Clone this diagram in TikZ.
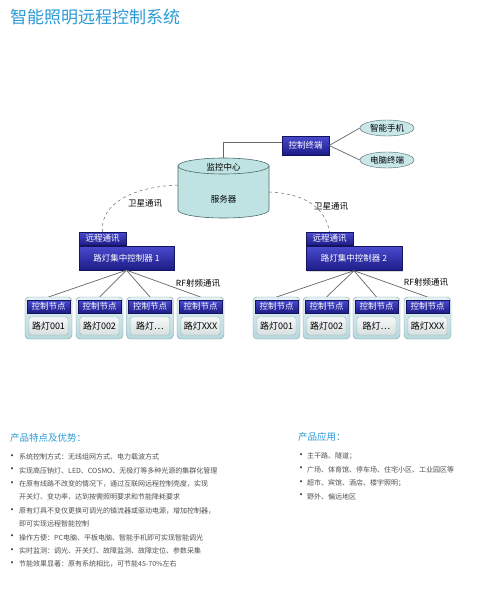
\documentclass[tikz,border=0pt]{standalone}
\usepackage{fontspec}
\setmainfont{Noto Sans CJK SC}
\usepackage{tikz}
\usetikzlibrary{positioning, shapes.geometric, shadows}
\usepackage{xcolor}
\definecolor{TitleBlue}{HTML}{2B9BD8}
\definecolor{NavyTop}{HTML}{4A4AD0}
\definecolor{NavyBot}{HTML}{1C1C86}
\definecolor{NavyEdge}{HTML}{14145E}
\definecolor{Server}{HTML}{BFE3E3}
\definecolor{ServerEdge}{HTML}{4F6B6B}
\definecolor{GrpTop}{HTML}{E4F2F3}
\definecolor{GrpBot}{HTML}{B6D8DD}
\definecolor{GrpEdge}{HTML}{7E9FA4}
\definecolor{LampTop}{HTML}{F6F8F8}
\definecolor{LampBot}{HTML}{D6DFDF}
\definecolor{Wire}{HTML}{666666}
\definecolor{BodyGray}{HTML}{505050}

\begin{document}
\begin{tikzpicture}[
    x=1pt, y=-1pt,
    every node/.style={font=\fontsize{8.5}{10}\selectfont, inner sep=0pt},
    navybox/.style={draw=NavyEdge, top color=NavyTop, bottom color=NavyBot,
        text=white, minimum width=47pt, minimum height=13pt,
        drop shadow={shadow xshift=1pt, shadow yshift=-1pt, opacity=0.3}},
    grpbox/.style={draw=GrpEdge, top color=GrpTop, bottom color=GrpBot,
        rounded corners=4pt, minimum width=47pt, minimum height=42pt},
    lampbox/.style={draw=GrpEdge!80, top color=LampTop, bottom color=LampBot,
        rounded corners=2pt, minimum width=39pt, minimum height=18pt,
        font=\fontsize{9}{10}\selectfont},
    devbox/.style={ellipse, draw=ServerEdge, fill=Server!85, minimum width=54pt, minimum height=16pt},
    wire/.style={Wire, line width=0.7pt},
    sat/.style={Wire, dashed, line width=0.5pt},
    bodytxt/.style={font=\fontsize{7}{8}\selectfont, text=BodyGray, anchor=west},
    dottxt/.style={font=\fontsize{10}{10}\selectfont, text=BodyGray!70!black},
    headtxt/.style={font=\fontsize{9.5}{10}\selectfont, text=TitleBlue, anchor=west}
]
\useasboundingbox (0,0) rectangle (487,589);
\fill[white] (0,0) rectangle (487,589);

% === Title ===
\node[font=\fontsize{17}{18}\selectfont, text=TitleBlue, anchor=west] (title) at (10,17) {智能照明远程控制系统};

% === Server (cylinder) ===
\fill[Server, draw=ServerEdge, line width=0.6pt]
    (178,166) -- (178,210) arc[start angle=180, end angle=360, x radius=45.5pt, y radius=8pt] -- (269,166) -- cycle;
\fill[Server, draw=ServerEdge, line width=0.6pt] (223.5,166) ellipse [x radius=45.5pt, y radius=8pt];
\coordinate (srvtop) at (223.5,158);
\coordinate (srvL) at (178,185);
\coordinate (srvR) at (269,192);
\node (srvhd) at (223.5,167) {监控中心};
\node (srvbd) at (223.5,199) {服务器};

% === Control terminal ===
\node[navybox, minimum height=19pt] (term) at (305.5,145.5) {控制终端};
\node[devbox] (phone) at (387,128) {智能手机};
\node[devbox] (pc) at (387,160) {电脑终端};
\draw[wire] (srvtop) |- ([yshift=3pt]term.west);
\draw[wire] (term.east) -- (phone.west);
\draw[wire] (term.east) -- (pc.west);

% === Controller 1 ===
\node[navybox] (remA) at (102.5,238.5) {远程通讯};
\node[navybox, minimum width=95pt, minimum height=24pt] (ctrlA) at (126.5,258) {路灯集中控制器 1};
\draw[sat] (srvL) .. controls (130,187) and (100,205) .. (remA.north);
\node (satA) at (145,203) {卫星通讯};
\node (rfA) at (198,283) {RF射频通讯};

\foreach \i/\x/\lab in {1/48.5/路灯001, 2/99.5/路灯002, 3/150/路灯\ldots, 4/200.5/路灯XXX} {
    \draw[wire] (ctrlA.south) -- (\x,297);
    \node[grpbox] (grpA\i) at (\x,318) {};
    \node[navybox, minimum width=43pt] (nodeA\i) at (\x,306.5) {控制节点};
    \node[lampbox] (lampA\i) at (\x,326) {\lab};
}

% === Controller 2 ===
\node[navybox] (remB) at (329.5,238.5) {远程通讯};
\node[navybox, minimum width=96pt, minimum height=24pt] (ctrlB) at (354,258.5) {路灯集中控制器 2};
\draw[sat] (srvR) .. controls (300,193) and (325,205) .. (remB.north);
\node (satB) at (331,206) {卫星通讯};
\node (rfB) at (426,282) {RF射频通讯};

\foreach \i/\x/\lab in {1/276.5/路灯001, 2/326.5/路灯002, 3/376.5/路灯\ldots, 4/427.5/路灯XXX} {
    \draw[wire] (ctrlB.south) -- (\x,297);
    \node[grpbox] (grpB\i) at (\x,318) {};
    \node[navybox, minimum width=43pt] (nodeB\i) at (\x,306.5) {控制节点};
    \node[lampbox] (lampB\i) at (\x,326) {\lab};
}

% === Features ===
\node[headtxt] (feathd) at (10,438) {产品特点及优势：};
\foreach \y/\t in {457/{系统控制方式：无线组网方式、电力载波方式},
                   470.4/{实现高压钠灯、LED、COSMO、无极灯等多种光源的集群化管理},
                   483.8/{在原有线路不改变的情况下，通过互联网远程控制亮度，实现},
                   510.6/{原有灯具不变仅更换可调光的镇流器或驱动电源，增加控制器，},
                   537.4/{操作方便：PC电脑、平板电脑、智能手机即可实现智能调光},
                   550.8/{实时监测：调光、开关灯、故障监测、故障定位、参数采集},
                   564.2/{节能效果显著：原有系统相比，可节能45-70\%左右}} {
    \node[dottxt] (fb\y) at (12,\y) {•};
    \node[bodytxt] (ft\y) at (19,\y) {\t};
}
\node[bodytxt] (ftc1) at (19,497.2) {开关灯、变功率，达到按需照明要求和节能降耗要求};
\node[bodytxt] (ftc2) at (19,524) {即可实现远程智能控制};

% === Applications ===
\node[headtxt] (apphd) at (298,437) {产品应用：};
\foreach \y/\t in {456/{主干路、隧道；},
                   469.5/{广场、体育馆、停车场、住宅小区、工业园区等},
                   483/{超市、宾馆、酒店、楼宇照明；},
                   496.5/{野外、偏远地区}} {
    \node[dottxt] (ab\y) at (301,\y) {•};
    \node[bodytxt] (at\y) at (307,\y) {\t};
}

\end{tikzpicture}
\end{document}
